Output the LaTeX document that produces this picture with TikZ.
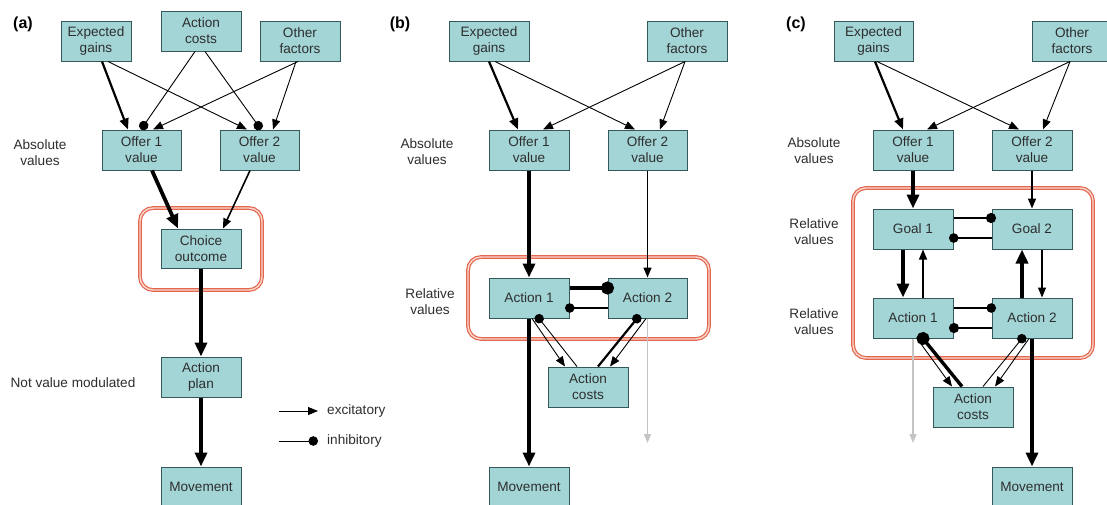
\documentclass[tikz,border=0pt]{standalone}
\usepackage{fontspec}
\setmainfont{Liberation Sans}
\usetikzlibrary{arrows.meta,calc}
\definecolor{boxfill}{HTML}{A3D5D6}
\definecolor{boxline}{HTML}{35585A}
\definecolor{txt}{HTML}{2E2E2E}
\definecolor{redline}{HTML}{E2674E}
\definecolor{redin}{HTML}{FAD6CC}
\definecolor{greyarr}{HTML}{C4C4C4}
\tikzset{
 bx/.style={draw=boxline, fill=boxfill, line width=1pt, minimum width=80pt, minimum height=40pt,
   inner sep=0pt, align=center, text=txt, font=\fontsize{13.6}{16}\selectfont},
 lbl/.style={align=center, text=txt, inner sep=0pt, font=\fontsize{13.6}{16}\selectfont},
 plbl/.style={inner sep=0pt, text=black, font=\fontsize{16}{18}\selectfont\bfseries},
 exc/.style={-{Triangle[length=10pt,width=8pt]}, line width=0.9pt},
 excM/.style={-{Triangle[length=11pt,width=9pt]}, line width=2.2pt},
 excT/.style={-{Triangle[length=14pt,width=12pt]}, line width=3.8pt},
 inh/.style={-{Circle[length=9.5pt]}, line width=0.9pt},
 inhM/.style={-{Circle[length=10pt]}, line width=2.4pt},
 inhT/.style={-{Circle[length=13pt]}, line width=3.4pt},
 dotin/.style={shorten >=-4.5pt},
 dotinT/.style={shorten >=-6.5pt},
 grey/.style={-{Triangle[length=9pt,width=7pt]}, line width=1.3pt, draw=greyarr, color=greyarr},
 redbox/.style={draw=redline, double=redin, double distance=1.4pt, line width=1.2pt, rounded corners=13pt},
}
\begin{document}
\begin{tikzpicture}[x=1pt,y=-1pt]
\useasboundingbox (0,0) rectangle (1107,504);
\fill[white] (0,0) rectangle (1107,504);
\clip (0,0) rectangle (1107,504);

% ---------------- panel (a)
\node[plbl] (pa) at (23,24) {(a)};
\node[bx, minimum width=70pt] (eg_a) at (96,41) {Expected\\gains};
\node[bx] (ac_a) at (201,31) {Action\\costs};
\node[bx] (of_a) at (300,41) {Other\\factors};
\node[bx, minimum width=79pt] (o1_a) at (141.5,150) {Offer 1\\value};
\node[bx, minimum width=79pt] (o2_a) at (259.5,150) {Offer 2\\value};
\node[lbl] (abs_a) at (40,153) {Absolute\\values};
\draw[redbox] (140,208) rectangle (262,290);
\node[bx, minimum height=39pt] (ch_a) at (201,248.5) {Choice\\outcome};
\node[bx] (ap_a) at (201,377) {Action\\plan};
\node[bx] (mv_a) at (201,487) {Movement};
\node[lbl] (nvm_a) at (73,383) {Not value modulated};

\draw[excM] ([xshift=6pt]eg_a.south) -- ([xshift=-13.5pt]o1_a.north);
\draw[exc] ([xshift=12pt]eg_a.south) -- ([xshift=-12.5pt]o2_a.north);
\draw[inh] ([xshift=-6pt]ac_a.south) -- ([xshift=-0.5pt]o1_a.north);
\draw[inh] ([xshift=4pt]ac_a.south) -- ([xshift=1.5pt]o2_a.north);
\draw[exc] ([xshift=-2pt]of_a.south) -- ([xshift=11.5pt]o1_a.north);
\draw[exc] ([xshift=-4pt]of_a.south) -- ([xshift=13.5pt]o2_a.north);
\draw[excT] ([xshift=10.5pt]o1_a.south) -- ([xshift=-23pt]ch_a.north);
\draw[-{Triangle[length=10pt,width=8pt]}, line width=1.6pt] ([xshift=-9.5pt]o2_a.south) -- ([xshift=22pt]ch_a.north);
\draw[excT] (ch_a.south) -- (ap_a.north);
\draw[excT] (ap_a.south) -- (mv_a.north);

% legend
\coordinate (le1) at (279,411);
\coordinate (le2) at (318,411);
\coordinate (li1) at (279,441);
\coordinate (li2) at (318,441);
\draw[exc] (le1) -- (le2);
\draw[inh] (li1) -- (li2);
\node[lbl, anchor=west] (lex) at (327,411) {excitatory};
\node[lbl, anchor=west] (lin) at (327,441) {inhibitory};

% ---------------- panel (b)
\node[plbl] (pb) at (400,24) {(b)};
\node[bx] (eg_b) at (489,41) {Expected\\gains};
\node[bx] (of_b) at (687,41) {Other\\factors};
\node[bx] (o1_b) at (529,150) {Offer 1\\value};
\node[bx, minimum width=79pt] (o2_b) at (647.5,150) {Offer 2\\value};
\node[lbl] (abs_b) at (427,152) {Absolute\\values};
\draw[redbox] (468,257) rectangle (709,339);
\node[bx] (a1_b) at (529,298) {Action 1};
\node[bx, minimum width=79pt] (a2_b) at (647.5,298) {Action 2};
\node[lbl] (rel_b) at (430,302) {Relative\\values};
\node[bx] (ac_b) at (588,387) {Action\\costs};
\node[bx] (mv_b) at (529,487) {Movement};
\coordinate (gr_b) at (647.5,443);

\draw[excM] (eg_b.south) -- ([xshift=-11pt]o1_b.north);
\draw[exc] ([xshift=6pt]eg_b.south) -- ([xshift=-12.5pt]o2_b.north);
\draw[exc] ([xshift=-2pt]of_b.south) -- ([xshift=14pt]o1_b.north);
\draw[exc] ([xshift=-2pt]of_b.south) -- ([xshift=12.5pt]o2_b.north);
\draw[excT] (o1_b.south) -- (a1_b.north);
\draw[-{Triangle[length=10pt,width=8pt]}, line width=1.4pt] (o2_b.south) -- (a2_b.north);
\draw[inhT, dotinT] ([yshift=10pt]a1_b.east) -- ([yshift=10pt]a2_b.west);
\draw[inh, line width=1.4pt, dotin] ([yshift=-10pt]a2_b.west) -- ([yshift=-10pt]a1_b.east);
\draw[exc] ([xshift=3pt]a1_b.south) -- ([xshift=-23pt]ac_b.north);
\draw[inh, dotin] ([xshift=-11pt]ac_b.north) -- ([xshift=10pt]a1_b.south);
\draw[inh, line width=2.2pt, dotin] ([xshift=10pt]ac_b.north) -- ([xshift=-10.5pt]a2_b.south);
\draw[exc] ([xshift=-1.5pt]a2_b.south) -- ([xshift=22pt]ac_b.north);
\draw[grey] (a2_b.south) -- (gr_b);
\draw[excT] (a1_b.south) -- (mv_b.north);

% ---------------- panel (c)
\node[plbl] (pc) at (796,24) {(c)};
\node[bx, minimum width=79pt] (eg_c) at (873.5,41) {Expected\\gains};
\node[bx] (of_c) at (1072,41) {Other\\factors};
\node[bx] (o1_c) at (913,150) {Offer 1\\value};
\node[bx] (o2_c) at (1032,150) {Offer 2\\value};
\node[lbl] (abs_c) at (814,151) {Absolute\\values};
\draw[redbox] (853,188) rectangle (1093,358);
\node[bx] (g1_c) at (913,229) {Goal 1};
\node[bx] (g2_c) at (1032,229) {Goal 2};
\node[lbl] (rel_c1) at (814,232) {Relative\\values};
\node[bx] (a1_c) at (913,318) {Action 1};
\node[bx] (a2_c) at (1032,318) {Action 2};
\node[lbl] (rel_c2) at (814,322) {Relative\\values};
\node[bx] (ac_c) at (973,407) {Action\\costs};
\node[bx] (mv_c) at (1032,487) {Movement};
\coordinate (gr_c) at (913,443);

\draw[excM] ([xshift=1.5pt]eg_c.south) -- ([xshift=-10pt]o1_c.north);
\draw[exc] ([xshift=3.5pt]eg_c.south) -- ([xshift=-13pt]o2_c.north);
\draw[exc] ([xshift=-2pt]of_c.south) -- ([xshift=14pt]o1_c.north);
\draw[exc] ([xshift=-2pt]of_c.south) -- ([xshift=11pt]o2_c.north);
\draw[excT] (o1_c.south) -- (g1_c.north);
\draw[-{Triangle[length=10pt,width=8pt]}, line width=1.4pt] (o2_c.south) -- (g2_c.north);
\draw[inhM, dotin] ([yshift=11pt]g1_c.east) -- ([yshift=11pt]g2_c.west);
\draw[inh, line width=1.5pt, dotin] ([yshift=-9pt]g2_c.west) -- ([yshift=-9pt]g1_c.east);
\draw[excT] ([xshift=-10pt]g1_c.south) -- ([xshift=-10pt]a1_c.north);
\draw[exc, line width=1.2pt] ([xshift=10pt]a1_c.north) -- ([xshift=10pt]g1_c.south);
\draw[excT] ([xshift=-10pt]a2_c.north) -- ([xshift=-10pt]g2_c.south);
\draw[exc, line width=1.2pt] ([xshift=10pt]g2_c.south) -- ([xshift=10pt]a2_c.north);
\draw[inh, line width=1.5pt, dotin] ([yshift=10pt]a1_c.east) -- ([yshift=10pt]a2_c.west);
\draw[inhM, dotin] ([yshift=-10pt]a2_c.west) -- ([yshift=-10pt]a1_c.east);
\draw[inhT, dotinT] ([xshift=-11pt]ac_c.north) -- ([xshift=10pt]a1_c.south);
\draw[exc] ([xshift=4pt]a1_c.south) -- ([xshift=-21pt]ac_c.north);
\draw[inh, dotin] ([xshift=10pt]ac_c.north) -- ([xshift=-10pt]a2_c.south);
\draw[exc] ([xshift=-3pt]a2_c.south) -- ([xshift=22pt]ac_c.north);
\draw[grey] (a1_c.south) -- (gr_c);
\draw[excT] (a2_c.south) -- (mv_c.north);
\end{tikzpicture}
\end{document}
